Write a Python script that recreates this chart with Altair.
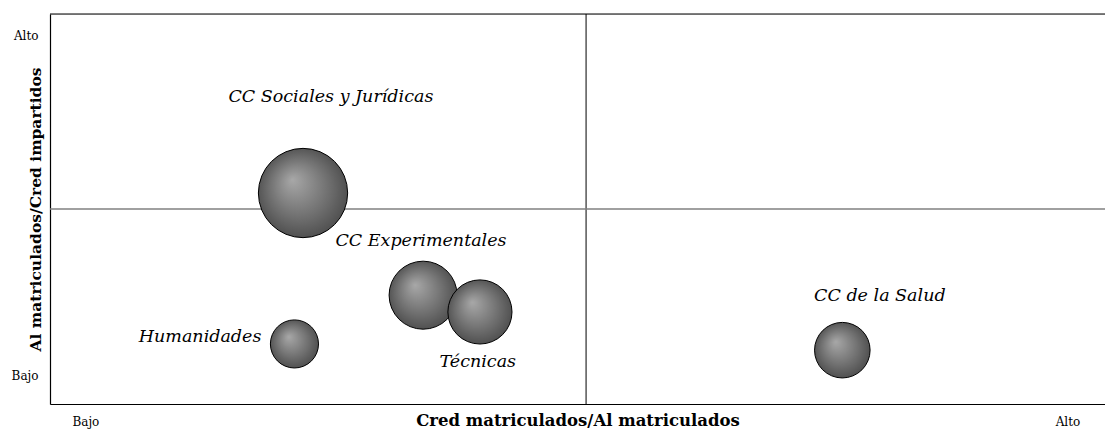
import altair as alt
import pandas as pd

# Bubble data (data units on a 0-100 "Bajo"-"Alto" scale)
areas = ["CC Sociales y Jurídicas", "CC Experimentales", "Técnicas", "Humanidades", "CC de la Salud"]
cred_al = [23.6, 34.8, 40.1, 22.8, 73.9]        # x: Cred matriculados / Al matriculados
al_cred = [54.1, 27.9, 23.6, 15.4, 13.8]        # y: Al matriculados / Cred impartidos
volume = [62, 36, 32, 18, 24]                   # bubble size value
label_x = [26.2, 34.6, 39.9, 14.0, 77.4]
label_y = [78.7, 41.8, 10.8, 17.2, 27.7]

x_ticks = [3.3, 94.9]
y_ticks = [7.2, 94.6]
midpoint = [50]
top_edge = [100]

df = pd.DataFrame({"area": areas, "x": cred_al, "y": al_cred, "v": volume,
                   "lx": label_x, "ly": label_y})
mid = pd.DataFrame({"m": midpoint})
top = pd.DataFrame({"t": top_edge})

xs = alt.Scale(domain=[0, 98.4], nice=False, zero=False)
ys = alt.Scale(domain=[0, 100], nice=False, zero=False)

serif = "DejaVu Serif"

xaxis = alt.Axis(values=x_ticks, labelExpr="datum.value > 50 ? 'Alto' : 'Bajo'",
                 title="Cred matriculados/Al matriculados", grid=False, domain=True,
                 domainColor="black", domainWidth=1.2,
                 ticks=False, tickSize=0, labelPadding=12, labelFont=serif, labelFontSize=12,
                 labelColor="black", titleFont=serif, titleFontSize=16.5, titleFontWeight="bold",
                 titleColor="black", titleY=21, titleBaseline="alphabetic")
yaxis = alt.Axis(values=y_ticks, labelExpr="datum.value > 50 ? 'Alto' : 'Bajo'",
                 title="Al matriculados/Cred impartidos", grid=False, domain=True,
                 domainColor="black", domainWidth=1.2,
                 ticks=False, tickSize=0, labelPadding=12, labelFont=serif, labelFontSize=12,
                 labelColor="black", labelBaseline="middle",
                 titleFont=serif, titleFontSize=15.5, titleFontWeight="bold",
                 titleColor="black", titleX=-15, titleBaseline="middle")

base = alt.Chart(df)

vline = alt.Chart(mid).mark_rule(color="black", strokeWidth=1).encode(
    x=alt.X("m:Q", scale=xs, axis=xaxis))
hline = alt.Chart(mid).mark_rule(color="#808080", strokeWidth=1.5).encode(
    y=alt.Y("m:Q", scale=ys, axis=yaxis))
topline = alt.Chart(top).mark_rule(color="black", strokeWidth=1.2).encode(
    y=alt.Y("t:Q", scale=ys))

gradient = {
    "gradient": "radial",
    "x1": 0.38, "y1": 0.35, "r1": 0,
    "x2": 0.5, "y2": 0.5, "r2": 0.55,
    "stops": [
        {"offset": 0, "color": "#a8a8a8"},
        {"offset": 0.6, "color": "#707070"},
        {"offset": 1, "color": "#4a4a4a"},
    ],
}

bubbles = base.transform_window(idx="row_number()").mark_circle(
    fill=gradient, stroke="black", strokeWidth=1, opacity=1).encode(
    x=alt.X("x:Q", scale=xs),
    y=alt.Y("y:Q", scale=ys),
    size=alt.Size("v:Q", scale=alt.Scale(domain=[0, 70], range=[0, 9000]), legend=None),
    order=alt.Order("idx:Q"),
)

labels = base.mark_text(font=serif, fontSize=17.5, fontStyle="italic", color="black",
                        align="center", baseline="middle").encode(
    x=alt.X("lx:Q", scale=xs),
    y=alt.Y("ly:Q", scale=ys),
    text="area:N",
)

chart = alt.layer(vline, hline, topline, bubbles, labels).properties(
    width=1055, height=390,
    autosize=alt.AutoSizeParams(type="none"),
    padding={"left": 42, "top": 6, "right": 0, "bottom": 25},
).configure_view(stroke=None).configure(background="white")

chart.save("out.html", embed_options={"renderer": "svg", "actions": False})
